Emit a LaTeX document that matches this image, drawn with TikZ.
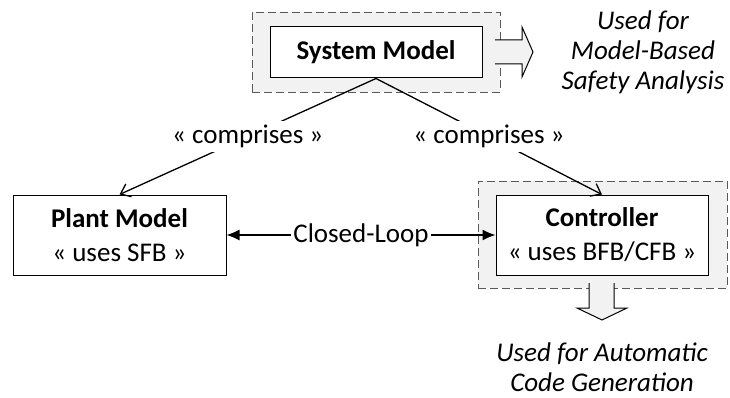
\documentclass[tikz,border=0pt]{standalone}
\usepackage{fontspec}
\setmainfont{Carlito}
\usetikzlibrary{arrows.meta}
\definecolor{framegray}{HTML}{F2F2F2}
\begin{document}
\begin{tikzpicture}[x=1pt,y=-1pt,
  every node/.style={font=\fontsize{27}{30}\selectfont, inner sep=0pt},
  frame/.style={draw=black!65, dashed, dash pattern=on 8pt off 4pt, line width=0.9pt, fill=framegray},
  block/.style={draw=black, line width=1pt, fill=white, align=center},
  bigarrow/.style={draw=black, line width=1pt, fill=framegray, line join=miter},
  link/.style={draw=black, line width=1.3pt, -{Straight Barb[length=9pt,width=14pt,line width=1.3pt]}},
  loop/.style={draw=black, line width=1.3pt, {Latex[length=13pt,width=11pt]}-{Latex[length=13pt,width=11pt]}},
  note/.style={align=center, font=\fontsize{27}{30}\selectfont\itshape}]
\useasboundingbox (0,0) rectangle (730,398);

% shaded frames
\node[frame, minimum width=248pt, minimum height=80pt] (sysframe) at (376,52) {};
\node[frame, minimum width=249pt, minimum height=107pt] (ctrlframe) at (602.5,234.5) {};

% hollow output arrows, open towards their frame
\draw[bigarrow] (495,40) -- (522,40) -- (522,27) -- (533,52) -- (522,77) -- (522,64) -- (495,64);
\fill[framegray] (494,40.6) rectangle (521.4,63.4);
\draw[bigarrow] (589,283) -- (589,308) -- (577,308) -- (602,320) -- (627,308) -- (614,308) -- (614,283);
\fill[framegray] (589.6,282) rectangle (613.4,307.4);

% blocks
\node[block, minimum width=212pt, minimum height=51pt] (sys) at (376,52.5) {\bfseries System Model};
\node[block, minimum width=213pt, minimum height=80pt] (plant) at (119.5,235) {\bfseries Plant Model\\[4pt]« uses SFB »};
\node[block, minimum width=212pt, minimum height=80pt] (ctrl) at (602,235) {\bfseries Controller\\[4pt]« uses BFB/CFB »};

% relations
\draw[link] (sys.south) -- node[fill=white, inner xsep=3pt, inner ysep=4pt] {« comprises »} (plant.north);
\draw[link] (sys.south) -- node[fill=white, inner xsep=3pt, inner ysep=4pt] {« comprises »} (ctrl.north);
\draw[loop] (plant.east) -- node[fill=white, inner xsep=2pt] (cl) {Closed-Loop} (ctrl.west);

% usage notes
\node[note] (mbsa) at (643,52) {Used for\\Model-Based\\Safety Analysis};
\node[note] (acg) at (602,367) {Used for Automatic\\Code Generation};
\end{tikzpicture}
\end{document}
